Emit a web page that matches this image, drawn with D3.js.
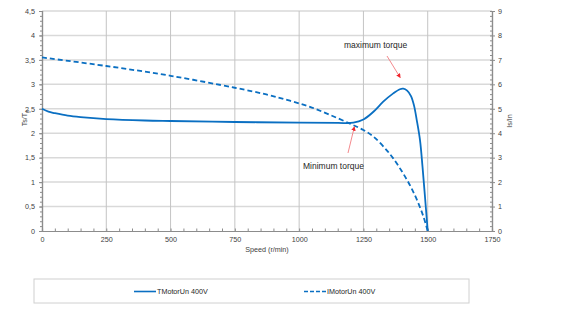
<!DOCTYPE html>
<html><head><meta charset="utf-8">
<script src="https://cdn.jsdelivr.net/npm/d3@7"></script>
<style>body{margin:0;background:#fff}svg{display:block;font-family:"Liberation Sans",Arial,sans-serif}</style>
</head><body><svg id="c" width="562" height="323"></svg>
<script>
// Data
const torqueSpeed = [0, 25, 50, 100, 150, 250, 400, 500, 750, 1000, 1150, 1211, 1250, 1289, 1327, 1366, 1392, 1405, 1420, 1435, 1447, 1457, 1470, 1480, 1490, 1500];
const torqueVals  = [2.5, 2.44, 2.41, 2.36, 2.33, 2.29, 2.26, 2.25, 2.23, 2.215, 2.21, 2.215, 2.28, 2.44, 2.645, 2.815, 2.9, 2.91, 2.87, 2.76, 2.56, 2.28, 1.86, 1.3, 0.66, 0];
const currentSpeed = [0, 250, 500, 750, 875, 964, 1042, 1120, 1200, 1250, 1289, 1340, 1366, 1400, 1431, 1457, 1483, 1500];
const currentVals  = [7.1, 6.75, 6.35, 5.86, 5.58, 5.33, 5.08, 4.75, 4.38, 4.13, 3.86, 3.31, 2.97, 2.43, 1.87, 1.3, 0.6, 0];
const xTicks = [0, 250, 500, 750, 1000, 1250, 1500, 1750];
const yLeftTicks = [0, 0.5, 1, 1.5, 2, 2.5, 3, 3.5, 4, 4.5];
const yRightTicks = [0, 1, 2, 3, 4, 5, 6, 7, 8, 9];
const seriesNames = ["TMotorUn 400V", "IMotorUn 400V"];
const annotations = [
  {text: "maximum torque", speed: 1405, value: 2.91},
  {text: "Minimum torque", speed: 1211, value: 2.215}
];

const svg = d3.select("#c");
const L = 42, R = 492, T = 11, B = 231;
const x = d3.scaleLinear().domain([0, 1750]).range([L, R]);
const yL = d3.scaleLinear().domain([0, 4.5]).range([B, T]);
const yR = d3.scaleLinear().domain([0, 9]).range([B, T]);
const fmt = d => String(d).replace(".", ",");
const blue = "#0a6fc2";

// horizontal gridlines
svg.append("g").selectAll("line").data(yLeftTicks.slice(1)).join("line")
  .attr("x1", L).attr("x2", R).attr("y1", d => yL(d)).attr("y2", d => yL(d))
  .attr("stroke", "#d9d9d9").attr("stroke-width", 1.5);
// vertical gridlines
svg.append("g").selectAll("line").data(xTicks.slice(1, -1)).join("line")
  .attr("x1", d => x(d)).attr("x2", d => x(d)).attr("y1", T).attr("y2", B)
  .attr("stroke", "#c4c4c4").attr("stroke-width", 1);

// axes
const gx = svg.append("g").attr("transform", `translate(0,${B})`)
  .call(d3.axisBottom(x).tickValues(xTicks).tickSize(0).tickPadding(6).tickFormat(d => d));
const gxm = svg.append("g").attr("transform", `translate(0,${B})`)
  .call(d3.axisBottom(x).tickValues(d3.range(0, 1751, 50)).tickSize(-2.5).tickFormat(""));
const gl = svg.append("g").attr("transform", `translate(${L},0)`)
  .call(d3.axisLeft(yL).tickValues(yLeftTicks).tickSize(3).tickPadding(4).tickFormat(fmt));
const glm = svg.append("g").attr("transform", `translate(${L},0)`)
  .call(d3.axisLeft(yL).tickValues(d3.range(0, 46).map(i => i / 10)).tickSize(2).tickFormat(""));
const gr = svg.append("g").attr("transform", `translate(${R},0)`)
  .call(d3.axisRight(yR).tickValues(yRightTicks).tickSize(3).tickPadding(3).tickFormat(fmt));
const grm = svg.append("g").attr("transform", `translate(${R},0)`)
  .call(d3.axisRight(yR).tickValues(d3.range(0, 46).map(i => i / 5)).tickSize(-2).tickFormat(""));
[gx, gxm, gl, glm, gr, grm].forEach(g => {
  g.select(".domain").attr("stroke", "#8c8c8c").attr("stroke-width", 1.2);
  g.selectAll(".tick line").attr("stroke", "#8c8c8c");
  g.selectAll("text").attr("fill", "#404040").attr("font-size", 7.2)
    .attr("font-family", "'Liberation Sans', Arial, sans-serif");
});

// axis titles
svg.append("text").attr("x", x(875)).attr("y", 252).attr("text-anchor", "middle")
  .attr("font-size", 7.2).attr("fill", "#404040").text("Speed (r/min)");
const yl = svg.append("text").attr("transform", "translate(27,118) rotate(-90)")
  .attr("text-anchor", "middle").attr("font-size", 7.2).attr("fill", "#404040");
yl.append("tspan").text("Ts/T");
yl.append("tspan").attr("font-size", 5.5).attr("dy", 1.5).text("n");
svg.append("text").attr("transform", "translate(512,121) rotate(-90)")
  .attr("text-anchor", "middle").attr("font-size", 7.2).attr("fill", "#404040").text("Is/In");

// lines
const lineT = d3.line().x(d => x(d[0])).y(d => yL(d[1])).curve(d3.curveCatmullRom.alpha(0.5));
const lineI = d3.line().x(d => x(d[0])).y(d => yR(d[1])).curve(d3.curveCatmullRom.alpha(0.5));
svg.append("path").datum(currentSpeed.map((s, i) => [s, currentVals[i]]))
  .attr("d", lineI).attr("fill", "none").attr("stroke", blue).attr("stroke-width", 1.8)
  .attr("stroke-dasharray", "5,3");
svg.append("path").datum(torqueSpeed.map((s, i) => [s, torqueVals[i]]))
  .attr("d", lineT).attr("fill", "none").attr("stroke", blue).attr("stroke-width", 1.8);

// annotations
const defs = svg.append("defs");
defs.append("marker").attr("id", "ah").attr("viewBox", "0 0 10 10").attr("refX", 9).attr("refY", 5)
  .attr("markerWidth", 5).attr("markerHeight", 5).attr("orient", "auto")
  .append("path").attr("d", "M0,0L10,5L0,10z").attr("fill", "#f0242b");
const a0 = annotations[0], a1 = annotations[1];
svg.append("text").attr("x", 344).attr("y", 48).attr("font-size", 8.5).attr("fill", "#262626").text(a0.text);
svg.append("line").attr("x1", 387).attr("y1", 56).attr("x2", x(a0.speed) - 3).attr("y2", yL(a0.value) - 11)
  .attr("stroke", "#f27c80").attr("stroke-width", 0.9).attr("marker-end", "url(#ah)");
svg.append("text").attr("x", 303).attr("y", 169).attr("font-size", 8.5).attr("fill", "#262626").text(a1.text);
svg.append("line").attr("x1", 348).attr("y1", 153).attr("x2", x(a1.speed) + 1).attr("y2", yL(a1.value) + 4)
  .attr("stroke", "#f27c80").attr("stroke-width", 0.9).attr("marker-end", "url(#ah)");

// legend
svg.append("rect").attr("x", 34).attr("y", 279).attr("width", 435).attr("height", 24)
  .attr("fill", "none").attr("stroke", "#d0d0d0").attr("stroke-width", 1);
const lg = [{x: 134, dash: null, name: seriesNames[0]}, {x: 304, dash: "4,2", name: seriesNames[1]}];
lg.forEach(l => {
  svg.append("line").attr("x1", l.x).attr("x2", l.x + 22).attr("y1", 291.5).attr("y2", 291.5)
    .attr("stroke", blue).attr("stroke-width", 1.6).attr("stroke-dasharray", l.dash);
  svg.append("text").attr("x", l.x + 23).attr("y", 294).attr("font-size", 7.2).attr("fill", "#262626").text(l.name);
});
</script></body></html>
